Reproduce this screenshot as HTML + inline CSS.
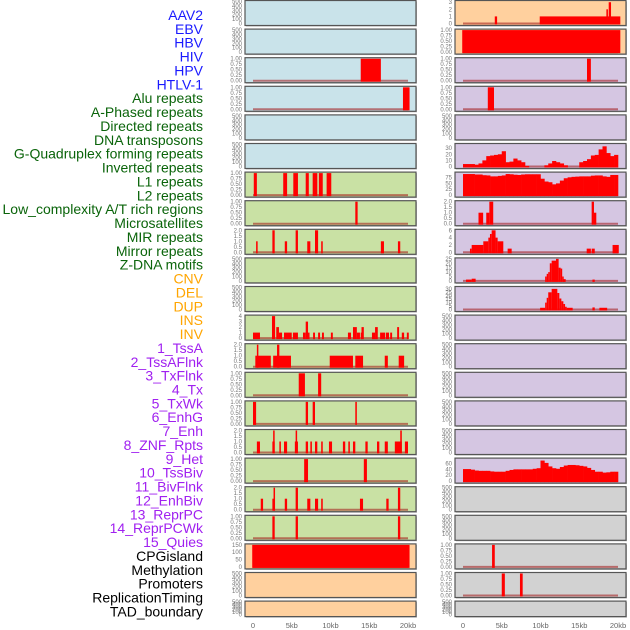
<!DOCTYPE html>
<html><head><meta charset="utf-8"><style>
body{margin:0;background:#fff;width:630px;height:630px;overflow:hidden}
svg{display:block;font-family:"Liberation Sans",sans-serif}
</style></head><body>
<svg id="chart" width="630" height="630" viewBox="0 0 630 630"></svg>
<script>
// ---- labels ----
const labelNames = ["AAV2","EBV","HBV","HIV","HPV","HTLV-1","Alu repeats","A-Phased repeats","Directed repeats","DNA transposons","G-Quadruplex forming repeats","Inverted repeats","L1 repeats","L2 repeats","Low_complexity A/T rich regions","Microsatellites","MIR repeats","Mirror repeats","Z-DNA motifs","CNV","DEL","DUP","INS","INV","1_TssA","2_TssAFlnk","3_TxFlnk","4_Tx","5_TxWk","6_EnhG","7_Enh","8_ZNF_Rpts","9_Het","10_TssBiv","11_BivFlnk","12_EnhBiv","13_ReprPC","14_ReprPCWk","15_Quies","CPGisland","Methylation","Promoters","ReplicationTiming","TAD_boundary"];
const labelGroups = ["v","v","v","v","v","v","r","r","r","r","r","r","r","r","r","r","r","r","r","s","s","s","s","s","c","c","c","c","c","c","c","c","c","c","c","c","c","c","c","o","o","o","o","o"];
// x ticks
const xTickValues = [0,5,10,15,20];
const xTickLabels = ["0","5kb","10kb","15kb","20kb"];
// ---- left column series (segments: [startKb, endKb, value]) ----
const hbvSegs = [[13.9,16.5,1]];
const hivSegs = [[19.35,20.2,1]];
const aluSegs = [[0.1,0.5,1],[3.9,4.4,1],[5.2,5.8,1],[6.8,7.2,1],[7.7,8.3,1],[8.5,9.0,1],[9.5,10.1,1]];
const aphasedSegs = [[13.2,13.5,1]];
const directedSegs = [[0.4,0.6,1],[2.5,2.8,2],[4.1,4.4,1],[5.5,5.8,2],[7.0,7.4,1],[8.0,8.4,2],[8.8,9.0,1],[16.5,16.9,1],[18.7,19.0,1]];
const invertedSegs = [[0,0.9,1],[2.45,2.85,4],[3.0,3.35,2],[3.35,3.75,1],[4.0,5.0,1],[5.15,5.8,1],[6.45,6.8,1],[6.8,7.1,3],[7.1,7.25,1],[7.75,8.0,1],[8.4,8.65,1],[8.9,9.15,1],[10.05,10.3,1],[12.25,12.65,1],[12.9,13.4,2],[13.4,13.8,1],[13.9,14.0,1],[14.0,14.3,2],[15.35,15.75,1],[15.75,16.1,2],[16.4,17.05,1],[17.15,17.55,1],[17.7,17.95,1],[18.6,18.85,2],[19.2,19.5,1],[19.85,20.1,1]];
const l1Segs = [[0.3,2.3,1],[0.5,0.6,2],[2.6,4.9,1],[3.1,3.4,2],[9.9,12.9,1],[13.2,14.2,1],[17.0,17.4,1],[18.8,19.5,1]];
const l2Segs = [[5.9,6.7,1],[8.4,8.8,1]];
const lowcxSegs = [[0.0,0.4,1],[6.8,7.1,1],[7.7,8.0,1],[13.2,13.4,1]];
const microSegs = [[0.5,0.9,1],[2.5,2.8,1],[2.6,2.75,2],[3.4,3.6,1],[4.0,4.4,1],[5.4,5.8,1],[5.5,5.65,2],[6.8,7.1,1],[7.4,7.6,1],[8.0,8.3,1],[8.8,9.0,1],[9.8,10.2,1],[11.6,11.9,1],[12.3,12.5,1],[12.9,13.2,1],[14.5,14.8,1],[16.0,16.3,1],[17.0,17.4,1],[18.3,19.2,1],[19.0,19.2,2],[19.6,20.0,1]];
const mirSegs = [[6.6,7.1,1],[14.3,14.7,1]];
const mirrorSegs = [[1.0,1.3,1],[2.5,2.8,1],[2.65,2.8,2],[4.1,4.4,1],[5.5,5.8,2],[7.0,7.4,1],[8.0,8.4,1],[8.8,9.0,1],[13.8,14.2,1],[17.2,17.5,1],[18.7,19.0,2]];
const zdnaSegs = [[2.5,2.8,1],[5.5,5.8,1],[18.7,19.0,1]];
const cnvSegs = [[-0.1,20.2,150]];
// ---- right column series ----
const insSegs = [[4.1,4.4,1],[9.9,20.3,1],[18.5,18.7,2],[18.8,19.1,3]];
const invSegs = [[-0.1,20.3,1]];
const tssaSegs = [[16.0,16.5,1]];
const tssaflnkSegs = [[3.2,4.0,1]];
const txwkBins = [4,4,4,3,5,10,17,18,19,20,25,7,8,13,10,7,1,0,0,0,0,2,5,9,7,5,2,0,0,0,7,9,12,18,19,28,33,22,17,19];
const enhgBins = [90,90,90,88,88,85,84,80,80,82,84,90,89,87,86,88,89,89,89,89,70,58,55,46,50,62,72,76,78,79,80,80,80,83,84,84,80,78,86,86];
const enhSegs = [[2.0,2.6,1],[3.0,3.4,1],[3.4,3.9,2],[16.6,16.9,2],[16.9,17.2,1]];
const znfSegs = [[0.9,1.12,1],[1.12,2.62,2],[2.62,3.27,3],[3.27,3.48,4],[3.48,3.7,5],[3.7,4.2,6],[4.2,4.47,4],[4.47,5.2,3],[5.76,6.28,1],[15.96,16.5,1],[16.6,17.0,1],[19.3,20.1,2]];
const hetSegs = [[0.39,1.12,1.5],[1.12,1.63,2.5],[10.6,10.8,5],[10.8,11.0,8],[11.0,11.2,10],[11.2,11.44,20],[11.44,12.0,23],[12.0,12.34,25],[12.34,12.6,15],[12.6,12.8,14],[12.8,12.95,5],[12.95,13.25,2],[16.7,17.0,1.5]];
const tssbivSegs = [[9.95,10.6,2.5],[10.6,10.8,10],[10.8,11.0,17],[11.0,11.44,25],[11.44,12.17,30],[12.17,12.43,24],[12.43,12.69,16],[12.69,12.95,12],[12.95,13.17,8],[13.17,13.38,4],[13.38,14.15,2.5],[16.7,17.0,3],[17.6,18.6,2.5]];
const quiesBins = [41,41,39,36,35,35,35,33,32,32,32,35,38,40,40,40,40,40,42,44,70,62,50,44,42,48,53,55,55,54,52,50,45,38,32,32,29,30,32,32];
const cpgSegs = [[3.75,4.1,1]];
const promSegs = [[5.0,5.4,1],[7.35,7.7,1]];
// ---- tick sets ----
const ticksEmpty = ["0","100","200","300","400","500"];
const ticksUnit = ["0.00","0.25","0.50","0.75","1.00"];
const ticksTwo = ["0.0","0.5","1.0","1.5","2.0"];
const ticksFour = ["0","1","2","3","4"];
const ticksThree = ["0","1","2","3"];
const ticksCnv = ["0","50","100","150"];
const ticksTxwk = ["0","10","20","30"];
const ticksEnhg = ["0","25","50","75"];
const ticksSix = ["0","2","4","6"];
const ticksHet = ["0","5","10","15","20","25"];
const ticksBiv = ["0","5","10","15","20","25","30"];
const ticksQuies = ["0","20","40","60"];

const BG = {b:"#c9e3ea",o:"#ffd09e",g:"#c9e1a4",p:"#d5c6e2",y:"#d2d2d2"};
// panel specs: [col,row,bg,name,ticks,ymax,kind,data]
const panels = [
[0,0,"b","aav2",ticksEmpty,500,"e",null],[0,1,"b","ebv",ticksEmpty,500,"e",null],
[0,2,"b","hbv",ticksUnit,1,"s",hbvSegs],[0,3,"b","hiv",ticksUnit,1,"s",hivSegs],
[0,4,"b","hpv",ticksEmpty,500,"e",null],[0,5,"b","htlv-1",ticksEmpty,500,"e",null],
[0,6,"g","alu-repeats",ticksUnit,1,"s",aluSegs],[0,7,"g","a-phased-repeats",ticksUnit,1,"s",aphasedSegs],
[0,8,"g","directed-repeats",ticksTwo,2,"s",directedSegs],[0,9,"g","dna-transposons",ticksEmpty,500,"e",null],
[0,10,"g","g-quadruplex",ticksEmpty,500,"e",null],[0,11,"g","inverted-repeats",ticksFour,4,"s",invertedSegs],
[0,12,"g","l1-repeats",ticksTwo,2,"s",l1Segs],[0,13,"g","l2-repeats",ticksUnit,1,"s",l2Segs],
[0,14,"g","low-complexity",ticksUnit,1,"s",lowcxSegs],[0,15,"g","microsatellites",ticksTwo,2,"s",microSegs],
[0,16,"g","mir-repeats",ticksUnit,1,"s",mirSegs],[0,17,"g","mirror-repeats",ticksTwo,2,"s",mirrorSegs],
[0,18,"g","z-dna-motifs",ticksUnit,1,"s",zdnaSegs],[0,19,"o","cnv",ticksCnv,150,"s",cnvSegs],
[0,20,"o","del",ticksEmpty,500,"e",null],[0,21,"o","dup",ticksEmpty,500,"e",null],
[1,0,"o","ins",ticksThree,3.1,"s",insSegs],[1,1,"o","inv",ticksUnit,1,"s",invSegs],
[1,2,"p","1-tssa",ticksUnit,1,"s",tssaSegs],[1,3,"p","2-tssaflnk",ticksUnit,1,"s",tssaflnkSegs],
[1,4,"p","3-txflnk",ticksEmpty,500,"e",null],[1,5,"p","4-tx",ticksTxwk,36,"b",txwkBins],
[1,6,"p","5-txwk",ticksEnhg,94,"b",enhgBins],[1,7,"p","6-enhg",ticksTwo,2,"s",enhSegs],
[1,8,"p","7-enh",ticksSix,6,"s",znfSegs],[1,9,"p","8-znf-rpts",ticksHet,25,"s",hetSegs],
[1,10,"p","9-het",ticksBiv,32,"s",tssbivSegs],[1,11,"p","10-tssbiv",ticksEmpty,500,"e",null],
[1,12,"p","11-bivflnk",ticksEmpty,500,"e",null],[1,13,"p","12-enhbiv",ticksEmpty,500,"e",null],
[1,14,"p","13-reprpc",ticksEmpty,500,"e",null],[1,15,"p","14-reprpcwk",ticksEmpty,500,"e",null],
[1,16,"p","15-quies",ticksQuies,75,"b",quiesBins],[1,17,"y","cpgisland",ticksEmpty,500,"e",null],
[1,18,"y","methylation",ticksEmpty,500,"e",null],[1,19,"y","promoters",ticksUnit,1,"s",cpgSegs],
[1,20,"y","replication-timing",ticksUnit,1,"s",promSegs],[1,21,"y","tad-boundary",ticksEmpty,500,"e",null]
];

const NS="http://www.w3.org/2000/svg";
const svg=document.getElementById("chart");
function mk(tag,attrs,parent){const e=document.createElementNS(NS,tag);for(const k in attrs)e.setAttribute(k,attrs[k]);(parent||svg).appendChild(e);return e;}
const colX=[245,455], PW=171, x0off=8, kbPx=7.75;
function xScale(col,kb){return colX[col]+x0off+kb*kbPx;}

// labels
const gcol={v:"#1a1aff",r:"#0a640a",s:"#ffa500",c:"#a020f0",o:"#000"};
labelNames.forEach((n,i)=>{
  const t=mk("text",{x:203,y:20+i*13.87,"text-anchor":"end","font-size":"14",fill:gcol[labelGroups[i]]});
  t.textContent=n;
  
  
});

panels.forEach(p=>{
  const [col,row,bg,name,ticks,ymax,kind,data]=p;
  const top=row*28.6+0.5, h=(row===21)?15.5:25;
  const left=colX[col];
  const g=mk("g",{});
  
  
  mk("rect",{x:left+1,y:top+1,width:PW,height:h,fill:"#bbb"},g);
  mk("rect",{x:left,y:top,width:PW,height:h,fill:BG[bg],stroke:"#555","stroke-width":1.2},g);
  const yb=top+h-2, yr=h-3;
  const yS=v=>yb-v/ymax*yr;
  // y ticks
  const n=ticks.length;
  const tmax=parseFloat(ticks[n-1]);
  ticks.forEach(tl=>{
    const v=parseFloat(tl);
    const yy=(kind==="e")? yb - v/500*(h-3) : yS(v);
    const t=mk("text",{x:left-3,y:yy+2,"text-anchor":"end","font-size":"6",fill:"#777"},g);
    t.textContent=tl;
    
    
  });
  if(kind==="e") return;
  // baseline
  const bl=mk("line",{x1:xScale(col,0),x2:xScale(col,20),y1:yb,y2:yb,stroke:"rgba(160,20,20,0.55)","stroke-width":2},g);
  
  
  if(kind==="s"){
    data.forEach(s=>{
      const x1=xScale(col,s[0]),x2=xScale(col,s[1]);
      const r=mk("rect",{x:x1,y:yS(s[2]),width:Math.max(1.5,x2-x1),height:yb-yS(s[2])+1,fill:"#ff0000"},g);
      
      
    });
  } else {
    data.forEach((v,i)=>{
      if(v<=0) return;
      const x1=xScale(col,i*0.5),x2=xScale(col,i*0.5+0.5);
      const r=mk("rect",{x:x1,y:yS(v),width:x2-x1+0.3,height:yb-yS(v)+1,fill:"#ff0000"},g);
      
      
    });
  }
});

// x axes
[0,1].forEach(col=>{
  xTickValues.forEach((v,i)=>{
    const t=mk("text",{x:xScale(col,v),y:628,"text-anchor":"middle","font-size":"7.5",fill:"#666"});
    t.textContent=xTickLabels[i];
    
    
  });
});
</script>
</body></html>
